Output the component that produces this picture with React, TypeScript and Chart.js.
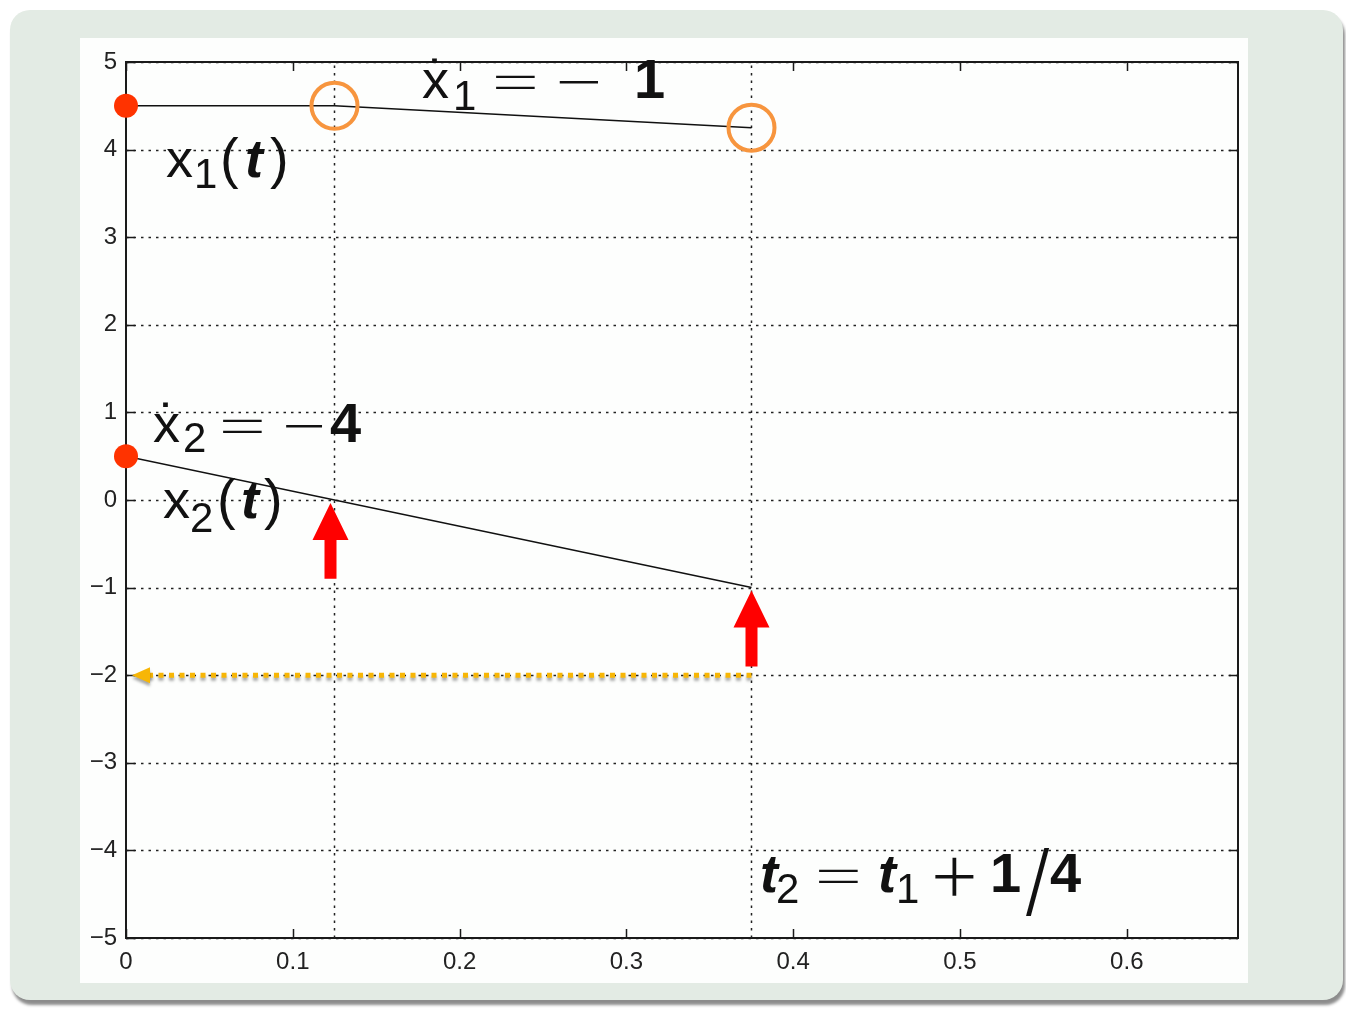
import { useEffect, useRef } from "react";
import { Chart, registerables } from "chart.js";

Chart.register(...registerables);

// Time axis
const T_MAX = 2 / 3;
const tTicks = [0, 0.1, 0.2, 0.3, 0.4, 0.5, 0.6];
const tTickLabels = ["0", "0.1", "0.2", "0.3", "0.4", "0.5", "0.6"];

// State axis
const yTicks = [-5, -4, -3, -2, -1, 0, 1, 2, 3, 4, 5];
const yTickLabels = ["−5", "−4", "−3", "−2", "−1", "0", "1", "2", "3", "4", "5"];

// Switching instants t1, t2 = t1 + 1/4
const switchTimes = [0.125, 0.375];

// x1(t): held, then slope −1
const x1Times = [0, 0.125, 0.375];
const x1Values = [4.5, 4.5, 4.25];

// x2(t): slope −4
const x2Times = [0, 0.375];
const x2Values = [0.5, -1];

// initial states at t = 0
const initialTimes = [0, 0];
const initialValues = [4.5, 0.5];

// x1 at the switching instants (circled)
const circledValues = [4.5, 4.25];

// x2 at the switching instants (arrows point here)
const arrowTipValues = [0, -1];
const arrowLength = 0.9;

// level of the horizontal dotted arrow back to t = 0
const returnLevel = -2;

const FONT = '"Liberation Sans", Arial, Helvetica, sans-serif';
const INK = "#111";

type Run = {
  text: string;
  dx: number;
  dy?: number;
  size: number;
  weight?: string;
  style?: string;
  family?: string;
  align?: CanvasTextAlign;
  sx?: number;
};

type Label = { t: number; v: number; runs: Run[] };

// thin operators (=, −, +, /)
const OP = 'Inter, "Liberation Sans", sans-serif';
const OPW = "200";

const labels: Label[] = [
  {
    t: 0.024,
    v: 3.687,
    runs: [
      { text: "x", dx: 0, size: 54 },
      { text: "1", dx: 28, dy: 11, size: 42 },
      { text: "(", dx: 54, size: 56 },
      { text: "t", dx: 79, size: 54, weight: "bold", style: "italic" },
      { text: ")", dx: 104, size: 56 },
    ],
  },
  {
    t: 0.1775,
    v: 4.589,
    runs: [
      { text: "x", dx: 0, size: 54 },
      { text: "˙", dx: 15, size: 54, align: "center" },
      { text: "1", dx: 31, dy: 12, size: 42 },
      { text: "=", dx: 60, size: 56, family: OP, weight: OPW, sx: 1.85 },
      { text: "−", dx: 128, size: 56, family: OP, weight: OPW, sx: 1.6 },
      { text: "1", dx: 212, size: 56, weight: "bold" },
    ],
  },
  {
    t: 0.0162,
    v: 0.662,
    runs: [
      { text: "x", dx: 0, size: 54 },
      { text: "˙", dx: 15, size: 54, align: "center" },
      { text: "2", dx: 30, dy: 10, size: 42 },
      { text: "=", dx: 56, size: 56, family: OP, weight: OPW, sx: 1.85 },
      { text: "−", dx: 124, size: 56, family: OP, weight: OPW, sx: 1.5 },
      { text: "4", dx: 177, size: 56, weight: "bold" },
    ],
  },
  {
    t: 0.0222,
    v: -0.205,
    runs: [
      { text: "x", dx: 0, size: 54 },
      { text: "2", dx: 27, dy: 14, size: 42 },
      { text: "(", dx: 54, size: 56 },
      { text: "t", dx: 78, size: 54, weight: "bold", style: "italic" },
      { text: ")", dx: 101, size: 56 },
    ],
  },
  {
    t: 0.3801,
    v: -4.475,
    runs: [
      { text: "t", dx: 0, size: 54, weight: "bold", style: "italic" },
      { text: "2", dx: 16, dy: 11, size: 42 },
      { text: "=", dx: 45, size: 56, family: OP, weight: OPW, sx: 1.85 },
      { text: "t", dx: 118, size: 54, weight: "bold", style: "italic" },
      { text: "1", dx: 136, dy: 11, size: 42 },
      { text: "+", dx: 166, dy: 10, size: 88, family: OP, weight: OPW },
      { text: "1", dx: 230, size: 56, weight: "bold" },
      { text: "/", dx: 264, dy: 15, size: 78, family: OP, weight: "300" },
      { text: "4", dx: 290, size: 56, weight: "bold" },
    ],
  },
];

const pts = (xs: number[], ys: number[]) => xs.map((x, i) => ({ x, y: ys[i] }));

const framePlugin = {
  id: "frame",
  beforeDatasetsDraw(chart: any) {
    const { ctx, chartArea: a, scales } = chart;
    const xs = scales.x;
    const ys = scales.y;
    ctx.save();
    // horizontal dotted grid
    ctx.strokeStyle = "#222";
    ctx.lineWidth = 1.5;
    ctx.setLineDash([2.5, 5]);
    for (const v of yTicks) {
      const y = Math.round(ys.getPixelForValue(v)) + 0.5;
      ctx.beginPath();
      ctx.moveTo(a.left, y);
      ctx.lineTo(a.right, y);
      ctx.stroke();
    }
    ctx.setLineDash([]);
    // box
    ctx.strokeStyle = "#1a1a1a";
    ctx.lineWidth = 2;
    ctx.strokeRect(a.left, a.top, a.right - a.left, a.bottom - a.top);
    // inward tick marks
    ctx.lineWidth = 1.5;
    const tl = 9;
    for (const v of tTicks) {
      const x = Math.round(xs.getPixelForValue(v)) + 0.5;
      ctx.beginPath();
      ctx.moveTo(x, a.top);
      ctx.lineTo(x, a.top + tl);
      ctx.moveTo(x, a.bottom);
      ctx.lineTo(x, a.bottom - tl);
      ctx.stroke();
    }
    for (const v of yTicks) {
      const y = Math.round(ys.getPixelForValue(v)) + 0.5;
      ctx.beginPath();
      ctx.moveTo(a.left, y);
      ctx.lineTo(a.left + tl, y);
      ctx.moveTo(a.right, y);
      ctx.lineTo(a.right - tl, y);
      ctx.stroke();
    }
    ctx.restore();
  },
  afterDatasetsDraw(chart: any) {
    const { ctx, scales } = chart;
    const xs = scales.x;
    const ys = scales.y;
    ctx.save();

    // dotted arrow from t2 back to t = 0
    const yr = ys.getPixelForValue(returnLevel);
    const xStart = xs.getPixelForValue(switchTimes[1]);
    const xTip = xs.getPixelForValue(0) + 6;
    ctx.shadowColor = "rgba(0,0,0,0.35)";
    ctx.shadowBlur = 3;
    ctx.shadowOffsetY = 3;
    ctx.strokeStyle = "#f7b606";
    ctx.fillStyle = "#f7b606";
    ctx.lineWidth = 5;
    ctx.setLineDash([5, 5.5]);
    ctx.beginPath();
    ctx.moveTo(xStart, yr);
    ctx.lineTo(xTip + 14, yr);
    ctx.stroke();
    ctx.setLineDash([]);
    ctx.beginPath();
    ctx.moveTo(xTip, yr);
    ctx.lineTo(xTip + 18, yr - 8);
    ctx.lineTo(xTip + 18, yr + 8);
    ctx.closePath();
    ctx.fill();
    ctx.shadowColor = "transparent";
    ctx.shadowBlur = 0;
    ctx.shadowOffsetY = 0;

    // red arrows pointing at x2(t1), x2(t2)
    ctx.fillStyle = "#ff0000";
    switchTimes.forEach((t, i) => {
      const x = xs.getPixelForValue(t) - (i === 0 ? 4 : 0);
      const yTip = ys.getPixelForValue(arrowTipValues[i]) + 3;
      const yTail = ys.getPixelForValue(arrowTipValues[i] - arrowLength);
      const headH = 37;
      const headW = 18;
      const shaft = 6;
      ctx.beginPath();
      ctx.moveTo(x, yTip);
      ctx.lineTo(x + headW, yTip + headH);
      ctx.lineTo(x + shaft, yTip + headH);
      ctx.lineTo(x + shaft, yTail);
      ctx.lineTo(x - shaft, yTail);
      ctx.lineTo(x - shaft, yTip + headH);
      ctx.lineTo(x - headW, yTip + headH);
      ctx.closePath();
      ctx.fill();
    });

    // math annotations
    ctx.fillStyle = INK;
    ctx.textBaseline = "alphabetic";
    for (const lab of labels) {
      const x0 = xs.getPixelForValue(lab.t);
      const y0 = ys.getPixelForValue(lab.v);
      for (const r of lab.runs) {
        ctx.font = `${r.style || "normal"} ${r.weight || "normal"} ${r.size}px ${r.family || FONT}`;
        ctx.textAlign = r.align || "left";
        ctx.save();
        ctx.translate(x0 + r.dx, y0 + (r.dy || 0));
        if (r.sx) ctx.scale(r.sx, 1);
        ctx.fillText(r.text, 0, 0);
        ctx.restore();
      }
    }
    ctx.restore();
  },
};

export default function App() {
  const ref = useRef<HTMLCanvasElement | null>(null);

  useEffect(() => {
    if (!ref.current) return;
    const tickFont = { family: FONT, size: 24 };
    const chart = new Chart(ref.current, {
      type: "scatter",
      data: {
        datasets: [
          {
            data: pts(initialTimes, initialValues),
            pointRadius: 12,
            pointBackgroundColor: "#ff3300",
            pointBorderWidth: 0,
            showLine: false,
            clip: false,
          } as any,
          {
            data: pts(switchTimes, circledValues),
            pointRadius: 23,
            pointBackgroundColor: "rgba(0,0,0,0)",
            pointBorderColor: "#f7953e",
            pointBorderWidth: 4,
            showLine: false,
            clip: false,
          } as any,
          {
            data: pts(x1Times, x1Values),
            showLine: true,
            borderColor: "#111",
            borderWidth: 1.5,
            pointRadius: 0,
          },
          {
            data: pts(x2Times, x2Values),
            showLine: true,
            borderColor: "#111",
            borderWidth: 1.5,
            pointRadius: 0,
          },
          ...switchTimes.map((t) => ({
            data: pts([t, t], [yTicks[0], yTicks[yTicks.length - 1]]),
            showLine: true,
            borderColor: "#222",
            borderWidth: 1.5,
            borderDash: [2.5, 5],
            pointRadius: 0,
          })),
        ],
      },
      options: {
        responsive: false,
        animation: false,
        events: [],
        layout: { padding: { left: 80, top: 62, right: 108, bottom: 31 } },
        plugins: { legend: { display: false }, tooltip: { enabled: false } },
        scales: {
          x: {
            type: "linear",
            min: 0,
            max: T_MAX,
            grid: { display: false, drawTicks: false },
            border: { display: false },
            afterBuildTicks: (s: any) => {
              s.ticks = tTicks.map((value) => ({ value }));
            },
            afterFit: (s: any) => {
              s.height = 40;
            },
            ticks: {
              padding: 10,
              font: tickFont,
              color: "#222",
              maxRotation: 0,
              autoSkip: false,
              callback: (_v: any, i: number) => tTickLabels[i],
            },
          },
          y: {
            type: "linear",
            min: yTicks[0],
            max: yTicks[yTicks.length - 1],
            grid: { display: false, drawTicks: false },
            border: { display: false },
            afterBuildTicks: (s: any) => {
              s.ticks = yTicks.map((value) => ({ value }));
            },
            afterFit: (s: any) => {
              s.width = 46;
            },
            ticks: {
              padding: 9,
              font: tickFont,
              color: "#222",
              autoSkip: false,
              callback: (_v: any, i: number) => yTickLabels[i],
            },
          },
        },
      },
      plugins: [framePlugin],
    });
    return () => chart.destroy();
  }, []);

  return (
    <div
      style={{
        position: "fixed",
        left: 0,
        top: 0,
        width: 1346,
        height: 1009,
        background: "#ffffff",
        overflow: "hidden",
      }}
    >
      <div
        style={{
          position: "absolute",
          left: 10,
          top: 10,
          width: 1333,
          height: 990,
          background: "#e3ebe4",
          borderRadius: 20,
          boxShadow: "2px 5px 3px rgba(0,0,0,0.45)",
        }}
      />
      <div
        style={{
          position: "absolute",
          left: 80,
          top: 38,
          width: 1168,
          height: 945,
          background: "#fdfefd",
        }}
      />
      <canvas
        ref={ref}
        width={1346}
        height={1009}
        style={{ position: "absolute", left: 0, top: 0, width: 1346, height: 1009 }}
      />
    </div>
  );
}
